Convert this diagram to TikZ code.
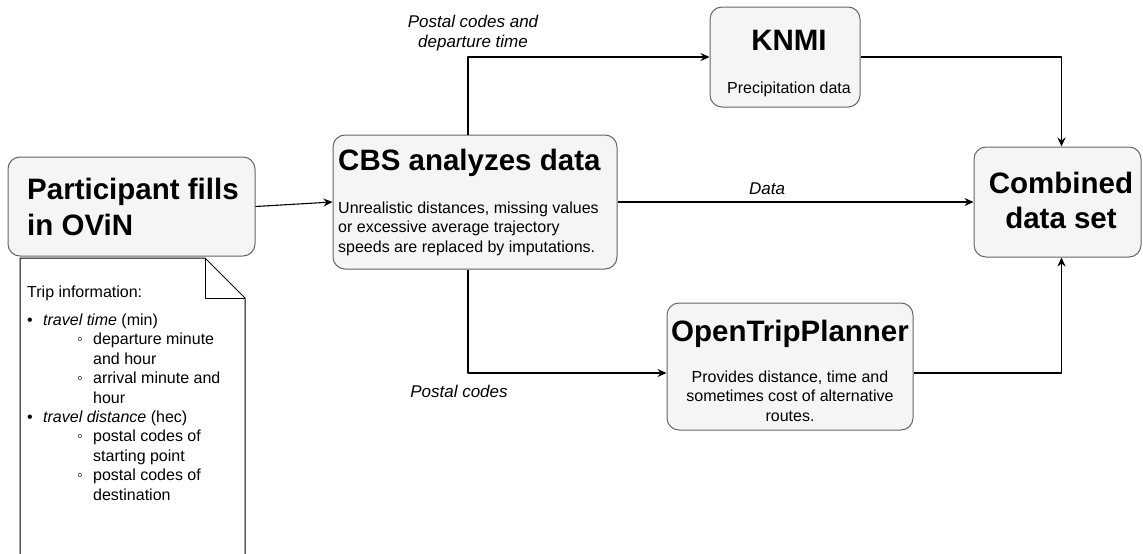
\documentclass[tikz,border=0pt]{standalone}
\usepackage{fontspec}
\setmainfont{Liberation Sans}
\usetikzlibrary{arrows.meta,positioning}
\definecolor{boxfill}{HTML}{F5F5F5}
\definecolor{boxline}{HTML}{666666}
\newcommand{\bul}{\makebox[16pt][l]{\textbullet}}
\newcommand{\subbul}{\hspace*{50pt}\makebox[16pt][l]{◦}}
\newcommand{\subind}{\hspace*{66pt}}
\begin{document}
\begin{tikzpicture}[x=1pt, y=-1pt, line join=round, >={Stealth[length=9pt,width=8pt]},
	box/.style={draw=boxline, fill=boxfill, rounded corners=12pt, line width=1pt, inner sep=0pt},
	title/.style={font=\fontsize{29.5}{36}\selectfont\bfseries, inner sep=0pt},
	body/.style={font=\fontsize{16}{19.5}\selectfont, inner sep=0pt},
	lbl/.style={font=\fontsize{17}{20}\selectfont\itshape, inner sep=0pt},
	conn/.style={->, line width=1.1pt}]
	\useasboundingbox (0,0) rectangle (1143,554);
	% boxes
	\node[box, minimum width=247pt, minimum height=99pt] (part) at (131.5,206.5) {};
	\node[box, minimum width=284pt, minimum height=134pt] (cbs) at (475,202) {};
	\node[box, minimum width=150pt, minimum height=100pt] (knmi) at (785,57) {};
	\node[box, minimum width=246pt, minimum height=127pt] (otp) at (790,366.5) {};
	\node[box, minimum width=167pt, minimum height=110pt] (comb) at (1057.5,202) {};
	% note with folded corner
	\filldraw[fill=white, draw=black, line width=1pt] (20,560) -- (20,258) -- (205,258) -- (245,298) -- (245,560) -- cycle;
	\draw[black, line width=1pt] (205,258) -- (205,298) -- (245,298);
	% texts (multi-line nodes sit on their last baseline)
	\node[title, anchor=base west, align=left] (partT) at (27,235) {Participant fills\\in OViN};
	\node[body, anchor=base west, align=left, font=\fontsize{16}{19.4}\selectfont] (trip) at (27,500) {Trip information:\\[8.3pt]
		\bul\textit{travel time} (min)\\
		\subbul departure minute\\
		\subind and hour\\
		\subbul arrival minute and\\
		\subind hour\\
		\bul\textit{travel distance} (hec)\\
		\subbul postal codes of\\
		\subind starting point\\
		\subbul postal codes of\\
		\subind destination};
	\node[title, anchor=base west] (cbsT) at (338,170) {CBS analyzes data};
	\node[body, anchor=base west, align=left] (cbsB) at (338,252) {Unrealistic distances, missing values\\or excessive average trajectory\\speeds are replaced by imputations.};
	\node[title, anchor=base] (knmiT) at (789,50) {KNMI};
	\node[body, anchor=base] (knmiB) at (789,93) {Precipitation data};
	\node[title, anchor=base] (otpT) at (790,341) {OpenTripPlanner};
	\node[body, anchor=base, align=center] (otpB) at (790,421) {Provides distance, time and\\sometimes cost of alternative\\routes.};
	\node[title, anchor=base, align=center, font=\fontsize{29.5}{35}\selectfont\bfseries] (combT) at (1061,228) {Combined\\data set};
	% connectors
	\draw[conn] (part.east) -- (cbs.west);
	\draw[conn] (cbs.east) -- node[lbl, above=7pt, pos=.42] (dataL) {Data} (comb.west);
	\draw[conn] ([xshift=-7pt]cbs.north) |- node[lbl, pos=.5, above=5pt, xshift=5pt, align=center] (pcdL) {Postal codes and\\departure time} (knmi.west);
	\draw[conn] ([xshift=-7pt]cbs.south) |- node[lbl, pos=.5, below=12pt, xshift=-9pt] (pcL) {Postal codes} ([yshift=-6.5pt]otp.west);
	\draw[conn] ([yshift=-6.5pt]otp.east) -| ([xshift=4pt]comb.south);
	\draw[conn] (knmi.east) -| ([xshift=4pt]comb.north);
\end{tikzpicture}
\end{document}
